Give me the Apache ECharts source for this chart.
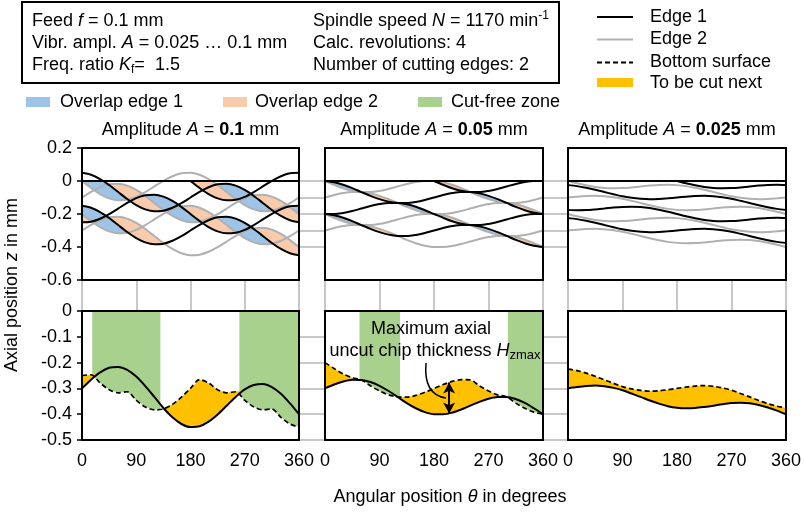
<!DOCTYPE html>
<html>
<head>
<meta charset="utf-8">
<title>Edge paths in vibration-assisted drilling</title>
<script src="https://cdn.jsdelivr.net/npm/echarts@6.0.0/dist/echarts.min.js"></script>
<style>
  html, body { margin: 0; padding: 0; background: #fff; }
  #chart { width: 804px; height: 513px; }
</style>
</head>
<body>
<div id="chart"></div>
<script>
// angular position on the workpiece, degrees
const thetas = [0, 15, 30, 45, 60, 75, 90, 105, 120, 135, 150, 165, 180,
  195, 210, 225, 240, 255, 270, 285, 300, 315, 330, 345, 360];

// axial edge position z in mm, every 15 deg of spindle rotation from 0 to 1440 deg
const edgePathA0100 = [
  0, -0.042, -0.079, -0.105, -0.117, -0.113, -0.096, -0.067,
  -0.033, 0.001, 0.029, 0.047, 0.050, 0.038, 0.012, -0.024,
  -0.067, -0.109, -0.146, -0.172, -0.183, -0.180, -0.162, -0.134,
  -0.100, -0.066, -0.038, -0.020, -0.017, -0.028, -0.054, -0.091,
  -0.133, -0.176, -0.212, -0.238, -0.250, -0.247, -0.229, -0.201,
  -0.167, -0.133, -0.104, -0.087, -0.083, -0.095, -0.121, -0.158,
  -0.200, -0.242, -0.279, -0.305, -0.317, -0.313, -0.296, -0.267,
  -0.233, -0.199, -0.171, -0.153, -0.150, -0.162, -0.188, -0.224,
  -0.267, -0.309, -0.346, -0.372, -0.383, -0.380, -0.362, -0.334,
  -0.300, -0.266, -0.238, -0.220, -0.217, -0.228, -0.254, -0.291,
  -0.333, -0.376, -0.412, -0.438, -0.450, -0.447, -0.429, -0.401,
  -0.367, -0.333, -0.304, -0.287, -0.283, -0.295, -0.321, -0.358,
  -0.400];
const edgePathA0050 = [
  0, -0.023, -0.044, -0.059, -0.067, -0.067, -0.060, -0.048,
  -0.033, -0.018, -0.006, 0.000, 0.000, -0.008, -0.023, -0.043,
  -0.067, -0.090, -0.110, -0.125, -0.133, -0.134, -0.127, -0.115,
  -0.100, -0.085, -0.073, -0.066, -0.067, -0.075, -0.090, -0.110,
  -0.133, -0.157, -0.177, -0.192, -0.200, -0.200, -0.194, -0.182,
  -0.167, -0.152, -0.140, -0.133, -0.133, -0.141, -0.156, -0.177,
  -0.200, -0.223, -0.244, -0.259, -0.267, -0.267, -0.260, -0.248,
  -0.233, -0.218, -0.206, -0.200, -0.200, -0.208, -0.223, -0.243,
  -0.267, -0.290, -0.310, -0.325, -0.333, -0.334, -0.327, -0.315,
  -0.300, -0.285, -0.273, -0.266, -0.267, -0.275, -0.290, -0.310,
  -0.333, -0.357, -0.377, -0.392, -0.400, -0.400, -0.394, -0.382,
  -0.367, -0.352, -0.340, -0.333, -0.333, -0.341, -0.356, -0.377,
  -0.400];
const edgePathA0025 = [
  0, -0.014, -0.026, -0.036, -0.042, -0.044, -0.043, -0.039,
  -0.033, -0.028, -0.024, -0.023, -0.025, -0.031, -0.041, -0.053,
  -0.067, -0.080, -0.093, -0.102, -0.108, -0.111, -0.109, -0.105,
  -0.100, -0.095, -0.091, -0.089, -0.092, -0.098, -0.107, -0.120,
  -0.133, -0.147, -0.159, -0.169, -0.175, -0.177, -0.176, -0.172,
  -0.167, -0.161, -0.157, -0.156, -0.158, -0.164, -0.174, -0.186,
  -0.200, -0.214, -0.226, -0.236, -0.242, -0.244, -0.243, -0.239,
  -0.233, -0.228, -0.224, -0.223, -0.225, -0.231, -0.241, -0.253,
  -0.267, -0.280, -0.293, -0.302, -0.308, -0.311, -0.309, -0.305,
  -0.300, -0.295, -0.291, -0.289, -0.292, -0.298, -0.307, -0.320,
  -0.333, -0.347, -0.359, -0.369, -0.375, -0.377, -0.376, -0.372,
  -0.367, -0.361, -0.357, -0.356, -0.358, -0.364, -0.374, -0.386,
  -0.400];

const edgePaths = [edgePathA0100, edgePathA0050, edgePathA0025];
const amplitudeLabels = ['0.1', '0.05', '0.025'];
// cut-free zones in the lower panels, degrees
const cutFreeZones = [[[17, 130], [261, 360]], [[57, 124], [302, 360]], []];
// H_zmax arrow in the middle lower panel: angle, top z, bottom z
const hzmaxArrow = [205, -0.277, -0.397];
const surfaceLevel = 0;

const FONT = '"Liberation Sans", Arial, Helvetica, sans-serif';
const EDGE1 = '#000000', EDGE2 = '#b0b0b0';
const OVERLAP1 = '#9dc3e6', OVERLAP2 = '#f8cbad', CUTFREE = '#a9d18e', TOCUT = '#ffc000';
const GUIDE = '#c8c8c8';
const SM = 0.3;
const LW = 2;

// panel layout (px)
const COLS = [[82, 217], [325, 218], [568, 218]];
const ROW_TOP = [148, 132], ROW_BOT = [311, 129];

const chart = echarts.init(document.getElementById('chart'));

const grid = [], xAxis = [], yAxis = [], series = [], graphic = [];
const axisText = { color: '#000', fontSize: 18, fontFamily: FONT };
const tickStyle = { color: '#000', width: 1.5 };

for (let r = 0; r < 2; r++) {
  for (let c = 0; c < 3; c++) {
    const [left, width] = COLS[c];
    const [top, height] = r ? ROW_BOT : ROW_TOP;
    const g = grid.length;
    grid.push({ left, top, width, height, show: true, backgroundColor: '#fff', borderWidth: 0, z: 1 });
    xAxis.push({
      type: 'value', gridIndex: g, min: 0, max: 360, interval: 90,
      axisLine: { show: false }, splitLine: { show: false },
      axisTick: { show: r === 1, length: 5, lineStyle: tickStyle },
      axisLabel: Object.assign({ show: r === 1, margin: 12 }, axisText)
    });
    yAxis.push({
      type: 'value', gridIndex: g,
      min: r ? -0.5 : -0.6, max: r ? 0 : 0.2, interval: r ? 0.1 : 0.2,
      axisLine: { show: false }, splitLine: { show: false },
      axisTick: { show: c === 0, length: 5, lineStyle: tickStyle },
      axisLabel: Object.assign({ show: c === 0, margin: 10 }, axisText)
    });
    graphic.push({
      type: 'rect', z: 100, silent: true,
      shape: { x: left, y: top, width, height },
      style: { fill: null, stroke: '#000', lineWidth: 2 }
    });
  }
}

// guide lines that show through the gaps between panels
const guideLine = { show: true, lineStyle: { color: GUIDE, width: 2 } };
const hidden = { axisLine: { show: false }, axisTick: { show: false }, axisLabel: { show: false } };
grid.push({ left: 82, top: 181, width: 704, height: 66 });
xAxis.push({ type: 'value', gridIndex: 6, show: false, min: 0, max: 360 });
yAxis.push(Object.assign({ type: 'value', gridIndex: 6, min: -0.4, max: 0, interval: 0.1, splitLine: guideLine, z: 0 }, hidden));
grid.push({ left: 82, top: 336.8, width: 704, height: 103.2 });
xAxis.push({ type: 'value', gridIndex: 7, show: false, min: 0, max: 360 });
yAxis.push(Object.assign({ type: 'value', gridIndex: 7, min: -0.5, max: -0.1, interval: 0.1, splitLine: guideLine, z: 0 }, hidden));
COLS.forEach(([left, width]) => {
  const g = grid.length;
  grid.push({ left, top: 148, width, height: 292 });
  xAxis.push(Object.assign({ type: 'value', gridIndex: g, min: 0, max: 360, interval: 90, splitLine: guideLine, z: 0 }, hidden));
  yAxis.push({ type: 'value', gridIndex: g, show: false, min: 0, max: 1 });
});

// filled band between two curves, through the axis scales
function bandSeries(axis, bands, z, name) {
  return {
    type: 'custom', name, xAxisIndex: axis, yAxisIndex: axis, data: [[0, 0]], silent: true, z,
    renderItem: (params, api) => ({
      type: 'group',
      children: bands.map(({ lower, upper, fill }) => {
        const idx = [];
        lower.forEach((d, i) => { if (d[1] != null && upper[i][1] != null) idx.push(i); });
        const pts = idx.map(i => api.coord(upper[i]))
          .concat(idx.slice().reverse().map(i => api.coord(lower[i])));
        return { type: 'polygon', shape: { points: pts }, style: { fill } };
      })
    })
  };
}

edgePaths.forEach((path, p) => {
  const top = p, bot = 3 + p;
  // pass m: edge path at spindle angle theta + 180*m (odd m = edge 1, even m = edge 2)
  const pass = m => thetas.map((th, i) => {
    const k = 12 * m + i;
    return [th, k >= 0 && k < path.length ? path[k] : null];
  });
  const passes = {};
  for (let m = -1; m <= 6; m++) passes[m] = pass(m);

  // overlap: where a pass runs above the previous one, below the surface
  const lenses = [];
  for (let m = 0; m <= 6; m++) {
    const prev = passes[m - 1], cur = passes[m];
    const upper = cur.map((d, i) => {
      const a = prev[i][1], b = d[1];
      return [d[0], a == null || b == null ? null : a + Math.max(0, Math.min(b, surfaceLevel) - a)];
    });
    lenses.push({ lower: prev, upper, fill: m % 2 ? OVERLAP1 : OVERLAP2 });
  }
  series.push(bandSeries(top, lenses, 3, 'Overlap'));

  // workpiece surface before cutting
  series.push({
    type: 'line', xAxisIndex: top, yAxisIndex: top, symbol: 'none', silent: true, z: 6,
    data: [[0, surfaceLevel], [360, surfaceLevel]], lineStyle: { color: '#000', width: LW }
  });
  for (let m = -1; m <= 6; m++) {
    series.push({
      type: 'line', name: m % 2 ? 'Edge 1' : 'Edge 2',
      xAxisIndex: top, yAxisIndex: top, data: passes[m], symbol: 'none', smooth: SM, silent: true,
      lineStyle: { color: m % 2 ? EDGE1 : EDGE2, width: LW }, z: m % 2 ? 6 : 5
    });
  }

  // lower panel: bottom surface left by the earlier passes, and the next pass
  const next = passes[6];
  const bottom = thetas.map((th, i) => {
    let z = surfaceLevel;
    for (let m = -1; m <= 5; m++) {
      const v = passes[m][i][1];
      if (v != null && v < z) z = v;
    }
    return [th, z];
  });
  const floor = thetas.map(th => [th, -0.5]);

  series.push({
    type: 'custom', name: 'Cut-free zone', xAxisIndex: bot, yAxisIndex: bot, data: cutFreeZones[p],
    silent: true, z: 2,
    renderItem: (params, api) => {
      const a = api.coord([api.value(0), 0]);
      const b = api.coord([api.value(1), -0.5]);
      return { type: 'rect', shape: { x: a[0], y: a[1], width: b[0] - a[0], height: b[1] - a[1] }, style: { fill: CUTFREE } };
    }
  });
  series.push(bandSeries(bot, [{ lower: floor, upper: bottom, fill: '#fff' }], 3, 'mask'));
  series.push(bandSeries(bot, [{
    lower: next,
    upper: next.map((d, i) => [d[0], Math.max(d[1], bottom[i][1])]),
    fill: TOCUT
  }], 4, 'To be cut next'));
  series.push({
    type: 'line', name: 'Bottom surface', xAxisIndex: bot, yAxisIndex: bot, data: bottom,
    symbol: 'none', smooth: SM, silent: true, z: 5,
    lineStyle: { color: '#000', width: 1.7, type: [5, 3] }
  });
  const solid = {
    type: 'line', name: 'Edge 1', xAxisIndex: bot, yAxisIndex: bot, data: next,
    symbol: 'none', smooth: SM, silent: true, z: 6, lineStyle: { color: '#000', width: LW }
  };
  if (p === 1) {
    solid.markLine = {
      silent: true, symbol: ['arrow', 'arrow'], symbolSize: [9, 11], animation: false,
      lineStyle: { color: '#000', width: 2, type: 'solid' }, label: { show: false },
      data: [[{ coord: [hzmaxArrow[0], hzmaxArrow[1]] }, { coord: [hzmaxArrow[0], hzmaxArrow[2]] }]]
    };
  }
  series.push(solid);
});

// ---- texts and legends ----
function tok(size, extra) {
  return Object.assign({ fontSize: size, fontFamily: FONT, fill: '#000' }, extra || {});
}
const RICH = {
  i: tok(18, { fontStyle: 'italic' }),
  b: tok(18, { fontWeight: 'bold' }),
  sup: tok(12, { lineHeight: 12, verticalAlign: 'top' }),
  sub: tok(12, { lineHeight: 12, verticalAlign: 'bottom' }),
  subz: tok(13, { lineHeight: 13, verticalAlign: 'bottom' })
};
function text(x, y, str, align, extra) {
  return Object.assign({
    type: 'text', x, y, z: 100, silent: true,
    style: { text: str, fontSize: 18, fontFamily: FONT, fill: '#000', lineHeight: 22,
      align: align || 'left', verticalAlign: 'middle', rich: RICH }
  }, extra || {});
}

graphic.push({ type: 'rect', z: 100, silent: true, shape: { x: 22, y: 2, width: 537, height: 81 },
  style: { fill: null, stroke: '#000', lineWidth: 2 } });
graphic.push(text(32, 21, 'Feed {i|f} = 0.1 mm'));
graphic.push(text(32, 43, 'Vibr. ampl. {i|A} = 0.025 … 0.1 mm'));
graphic.push(text(32, 65, 'Freq. ratio {i|K}{sub|f}=  1.5'));
graphic.push(text(313, 21, 'Spindle speed {i|N} = 1170 min{sup|-1}'));
graphic.push(text(313, 43, 'Calc. revolutions: 4'));
graphic.push(text(313, 65, 'Number of cutting edges: 2'));

// legend, right
[[17, EDGE1, 'solid', 'Edge 1'], [39.5, EDGE2, 'solid', 'Edge 2'], [62.5, '#000', [5, 3], 'Bottom surface']]
  .forEach(([y, color, type, name]) => {
    graphic.push({ type: 'line', z: 100, silent: true, shape: { x1: 597, y1: y, x2: 633, y2: y },
      style: { stroke: color, lineWidth: 2, lineDash: type === 'solid' ? null : type } });
    graphic.push(text(650, y, name));
  });
graphic.push({ type: 'rect', z: 100, silent: true, shape: { x: 597, y: 78, width: 36, height: 9 }, style: { fill: TOCUT } });
graphic.push(text(650, 83, 'To be cut next'));

// legend, middle row
[[26, 60, OVERLAP1, 'Overlap edge 1'], [223, 255, OVERLAP2, 'Overlap edge 2'], [418, 451, CUTFREE, 'Cut-free zone']]
  .forEach(([sx, tx, color, name]) => {
    graphic.push({ type: 'rect', z: 100, silent: true, shape: { x: sx, y: 97, width: 24, height: 10 }, style: { fill: color } });
    graphic.push(text(tx, 102, name));
  });

// panel titles
COLS.forEach(([left, width], c) => {
  graphic.push(text(left + width / 2, 130, 'Amplitude {i|A} = {b|' + amplitudeLabels[c] + '} mm', 'center'));
});

// axis names
graphic.push(text(12, 285, 'Axial position {i|z} in mm', 'center', { rotation: Math.PI / 2 }));
graphic.push(text(450, 497, 'Angular position {i|θ} in degrees', 'center'));

// H_zmax annotation
graphic.push(text(431, 329, 'Maximum axial', 'center'));
graphic.push(text(435, 351, 'uncut chip thickness {i|H}{subz|zmax}', 'center'));
graphic.push({ type: 'bezierCurve', z: 100, silent: true,
  shape: { x1: 426, y1: 363, cpx1: 424, cpy1: 386, cpx2: 432, cpy2: 396, x2: 446, y2: 398 },
  style: { fill: null, stroke: '#000', lineWidth: 1.5 } });

chart.setOption({
  animation: false,
  backgroundColor: '#fff',
  grid, xAxis, yAxis, series, graphic
});
</script>
</body>
</html>
